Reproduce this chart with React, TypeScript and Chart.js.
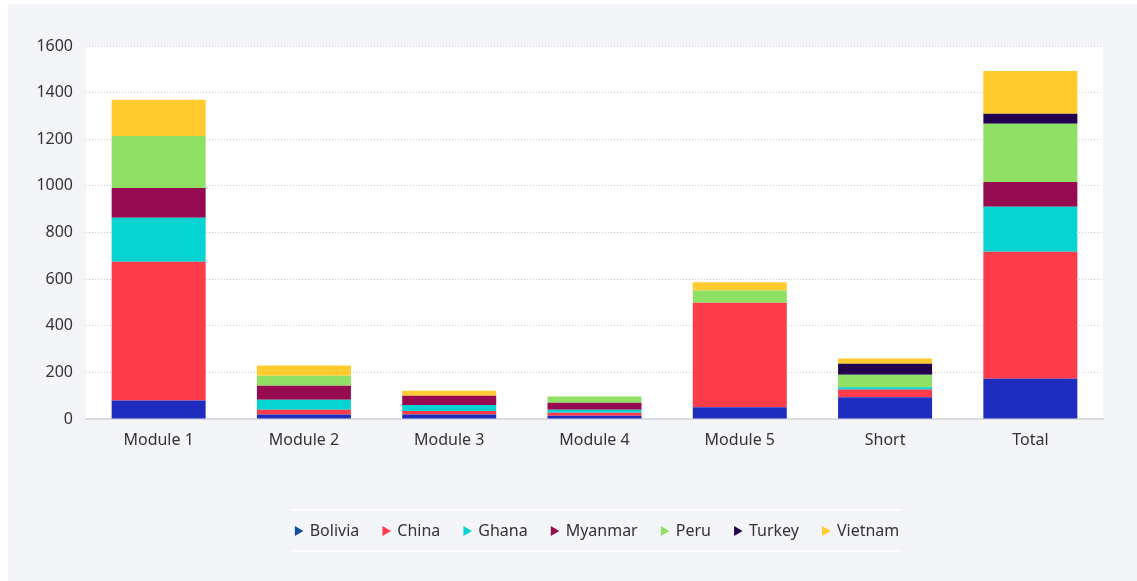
import React, { useEffect, useRef } from "react";
import { Chart, registerables } from "chart.js";

Chart.register(...registerables);

const categories = ["Module 1", "Module 2", "Module 3", "Module 4", "Module 5", "Short", "Total"];
const countries = ["Bolivia", "China", "Ghana", "Myanmar", "Peru", "Turkey", "Vietnam"];
const bolivia = [79, 19, 19, 14, 50, 93, 173];
const china = [595, 21, 15, 13, 449, 34, 544];
const ghana = [189, 43, 26, 13, 0, 9, 193];
const myanmar = [128, 60, 40, 30, 0, 0, 107];
const peru = [223, 43, 0, 26, 52, 54, 249];
const turkey = [0, 0, 0, 0, 0, 47, 43];
const vietnam = [155, 43, 21, 0, 36, 22, 184];
const seriesValues = [bolivia, china, ghana, myanmar, peru, turkey, vietnam];
const barColors = ["#1f2dbf", "#fc3b4b", "#06d4d3", "#960a50", "#8fe065", "#22004e", "#ffcb2e"];
const legendColors = ["#0f4fa6", "#fc3b4b", "#06d4d3", "#960a50", "#8fe065", "#22004e", "#ffcb2e"];
const yTicks = [0, 200, 400, 600, 800, 1000, 1200, 1400, 1600];

const FONT = "'Noto Sans', 'Open Sans', sans-serif";
const LEGEND_SHIFT = 32;

const plotBgPlugin = {
  id: "plotBg",
  afterLayout(chart: any) {
    const legend = chart.legend;
    if (legend) {
      legend.left += LEGEND_SHIFT;
      legend.right += LEGEND_SHIFT;
    }
  },
  beforeDraw(chart: any) {
    const { ctx, chartArea } = chart;
    ctx.save();
    ctx.fillStyle = "#ffffff";
    ctx.fillRect(chartArea.left, chartArea.top, chartArea.right - chartArea.left, chartArea.bottom - chartArea.top);
    ctx.restore();
  },
  afterDraw(chart: any) {
    const legend = chart.legend;
    if (!legend || !legend.legendHitBoxes || !legend.legendHitBoxes.length) return;
    const boxes = legend.legendHitBoxes;
    const left = boxes[0].left - 3;
    const last = boxes[boxes.length - 1];
    const right = last.left + last.width + 2;
    const cy = boxes[0].top + boxes[0].height / 2;
    const { ctx } = chart;
    ctx.save();
    ctx.strokeStyle = "#ffffff";
    ctx.lineWidth = 1.5;
    ctx.beginPath();
    ctx.moveTo(left, cy - 21);
    ctx.lineTo(right, cy - 21);
    ctx.moveTo(left, cy + 20);
    ctx.lineTo(right, cy + 20);
    ctx.stroke();
    ctx.restore();
  },
};

export default function App() {
  const ref = useRef<HTMLCanvasElement>(null);
  useEffect(() => {
    if (!ref.current) return;
    const chart = new Chart(ref.current, {
      type: "bar",
      data: {
        labels: categories,
        datasets: countries.map((c, i) => ({
          label: c,
          data: seriesValues[i],
          backgroundColor: barColors[i],
          borderWidth: 0,
          categoryPercentage: 1,
          barPercentage: 0.647,
        })),
      },
      plugins: [plotBgPlugin],
      options: {
        responsive: false,
        animation: false,
        maintainAspectRatio: false,
        layout: { padding: { left: 18, right: 34, top: 42, bottom: 32 } },
        scales: {
          x: {
            stacked: true,
            grid: { display: true, drawOnChartArea: false, drawTicks: false },
            border: { display: true, color: "#dcdcdc", width: 2 },
            ticks: { color: "#333333", font: { family: FONT, size: 16 }, padding: 12 },
            afterFit: (s: any) => {
              s.height = 82;
            },
          },
          y: {
            stacked: true,
            min: 0,
            max: 1600,
            afterBuildTicks: (s: any) => {
              s.ticks = yTicks.map((v) => ({ value: v }));
            },
            grid: { color: "#c8c8c8", drawTicks: false, lineWidth: 1 },
            border: { display: false, dash: [1, 2] },
            ticks: {
              color: "#333333",
              font: { family: FONT, size: 16 },
              padding: 13,
              callback: (v: any) => String(v),
            },
            afterFit: (s: any) => {
              s.width = 60;
            },
          },
        },
        plugins: {
          tooltip: { enabled: false },
          legend: {
            position: "bottom",
            labels: {
              usePointStyle: true,
              boxWidth: 8,
              boxHeight: 8,
              padding: 22,
              color: "#333333",
              font: { family: FONT, size: 16 },
              generateLabels: (ch: any) =>
                countries.map((c, i) => ({
                  text: c,
                  fillStyle: legendColors[i],
                  strokeStyle: legendColors[i],
                  lineWidth: 0,
                  pointStyle: "triangle",
                  rotation: 90,
                  hidden: false,
                  datasetIndex: i,
                  fontColor: "#333333",
                })),
            },
          },
        },
      },
    } as any);
    return () => chart.destroy();
  }, []);
  return (
    <div
      style={{
        position: "absolute",
        left: 8,
        top: 4,
        width: 1129,
        height: 577,
        background: "#f4f5f9",
      }}
    >
      <canvas ref={ref} width={1129} height={577} style={{ display: "block", width: 1129, height: 577 }} />
    </div>
  );
}
